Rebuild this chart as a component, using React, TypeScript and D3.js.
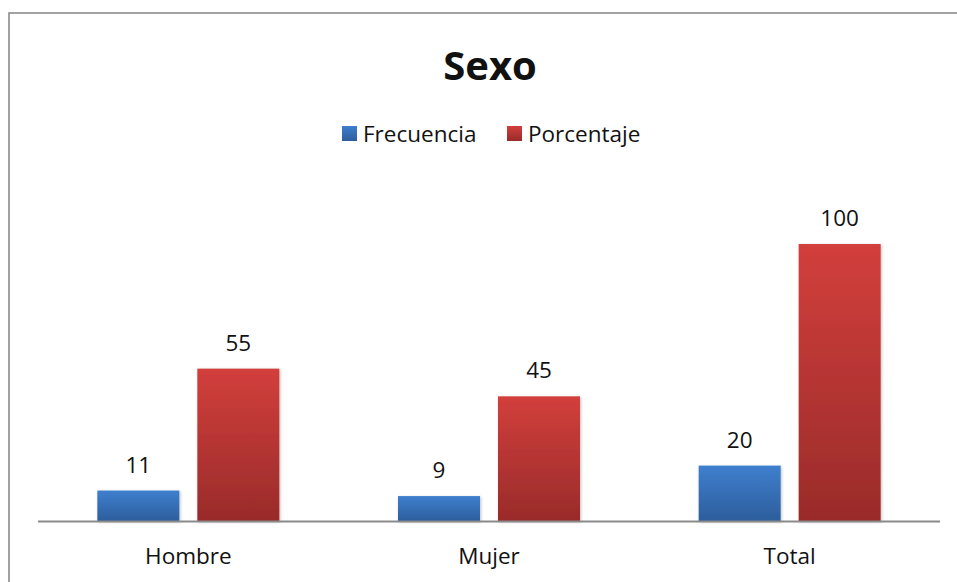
import React, { useEffect, useRef } from 'react';
import * as d3 from 'd3';

const categories = ['Hombre', 'Mujer', 'Total'];
const seriesNames = ['Frecuencia', 'Porcentaje'];
const frecuencia = [11, 9, 20];
const porcentaje = [55, 45, 100];

const W = 957;
const H = 582;

const App = () => {
  const ref = useRef<SVGSVGElement>(null);

  useEffect(() => {
    const svg = d3.select(ref.current);
    svg.selectAll('*').remove();

    const font = "'Open Sans', 'Noto Sans', sans-serif";
    const axisLeft = 38;
    const axisRight = 940;
    const baseline = 521;

    // gradients for the bars
    const defs = svg.append('defs');
    const grads = [
      { id: 'gBlue', top: '#3e7fce', bottom: '#2d5e9c' },
      { id: 'gRed', top: '#d23f3c', bottom: '#992b2a' },
    ];
    grads.forEach((g) => {
      const lg = defs.append('linearGradient').attr('id', g.id).attr('x1', 0).attr('y1', 0).attr('x2', 0).attr('y2', 1);
      lg.append('stop').attr('offset', '0%').attr('stop-color', g.top);
      lg.append('stop').attr('offset', '100%').attr('stop-color', g.bottom);
    });
    const filt = defs.append('filter').attr('id', 'shadow').attr('x', '-20%').attr('y', '-20%').attr('width', '140%').attr('height', '140%');
    filt.append('feDropShadow').attr('dx', 1).attr('dy', 1).attr('stdDeviation', 1.5).attr('flood-color', '#000').attr('flood-opacity', 0.25);

    // outer border
    svg.append('rect')
      .attr('x', 9).attr('y', 13).attr('width', 1000).attr('height', 1000)
      .attr('fill', 'white').attr('stroke', '#8c8c8c').attr('stroke-width', 1.6);

    // scales
    const x0 = d3.scaleBand().domain(categories).range([axisLeft, axisRight]).paddingInner(0).paddingOuter(0);
    const x1 = d3.scaleBand().domain(seriesNames).range([0, 182]).paddingInner(0.18);
    const groupOffset = (x0.bandwidth() - 182) / 2;
    const y = d3.scaleLinear().domain([0, 120]).range([baseline, baseline - 2.77 * 120]);

    const series = [
      { name: 'Frecuencia', values: frecuencia, fill: 'url(#gBlue)' },
      { name: 'Porcentaje', values: porcentaje, fill: 'url(#gRed)' },
    ];

    series.forEach((s) => {
      const g = svg.append('g');
      g.selectAll('rect')
        .data(categories)
        .enter()
        .append('rect')
        .attr('x', (d) => (x0(d) as number) + groupOffset + (x1(s.name) as number))
        .attr('y', (d, i) => y(s.values[i]))
        .attr('width', x1.bandwidth())
        .attr('height', (d, i) => baseline - y(s.values[i]))
        .attr('fill', s.fill)
        .attr('filter', 'url(#shadow)');

      g.selectAll('text')
        .data(categories)
        .enter()
        .append('text')
        .text((d, i) => s.values[i])
        .attr('x', (d) => (x0(d) as number) + groupOffset + (x1(s.name) as number) + x1.bandwidth() / 2)
        .attr('y', (d, i) => y(s.values[i]) - 18)
        .attr('text-anchor', 'middle')
        .attr('font-family', font)
        .attr('font-size', '22.5px')
        .attr('fill', '#111');
    });

    // x axis line
    svg.append('line')
      .attr('x1', axisLeft).attr('x2', axisRight)
      .attr('y1', baseline + 0.5).attr('y2', baseline + 0.5)
      .attr('stroke', '#8a8a8a').attr('stroke-width', 2);

    // category labels
    svg.append('g')
      .selectAll('text')
      .data(categories)
      .enter()
      .append('text')
      .text((d) => d)
      .attr('x', (d) => (x0(d) as number) + x0.bandwidth() / 2)
      .attr('y', 564)
      .attr('text-anchor', 'middle')
      .attr('font-family', font)
      .attr('font-size', '22.5px')
      .attr('fill', '#111');

    // title
    svg.append('text')
      .text('Sexo')
      .attr('x', 490)
      .attr('y', 80)
      .attr('text-anchor', 'middle')
      .attr('font-family', font)
      .attr('font-weight', 'bold')
      .attr('font-size', '40px')
      .attr('fill', '#111');

    // legend
    const legendItems = [
      { name: seriesNames[0], fill: 'url(#gBlue)', x: 342 },
      { name: seriesNames[1], fill: 'url(#gRed)', x: 507 },
    ];
    const legend = svg.append('g')
      .selectAll('g')
      .data(legendItems)
      .enter()
      .append('g')
      .attr('transform', (d) => `translate(${d.x}, 126)`);
    legend.append('rect')
      .attr('width', 15).attr('height', 15)
      .attr('fill', (d) => d.fill);
    legend.append('text')
      .text((d) => d.name)
      .attr('x', 21)
      .attr('y', 16)
      .attr('font-family', font)
      .attr('font-size', '22.5px')
      .attr('fill', '#111');
  }, []);

  return (
    <svg
      ref={ref}
      width={W}
      height={H}
      style={{ position: 'absolute', left: 0, top: 0, display: 'block', background: 'white' }}
    />
  );
};

export default App;
